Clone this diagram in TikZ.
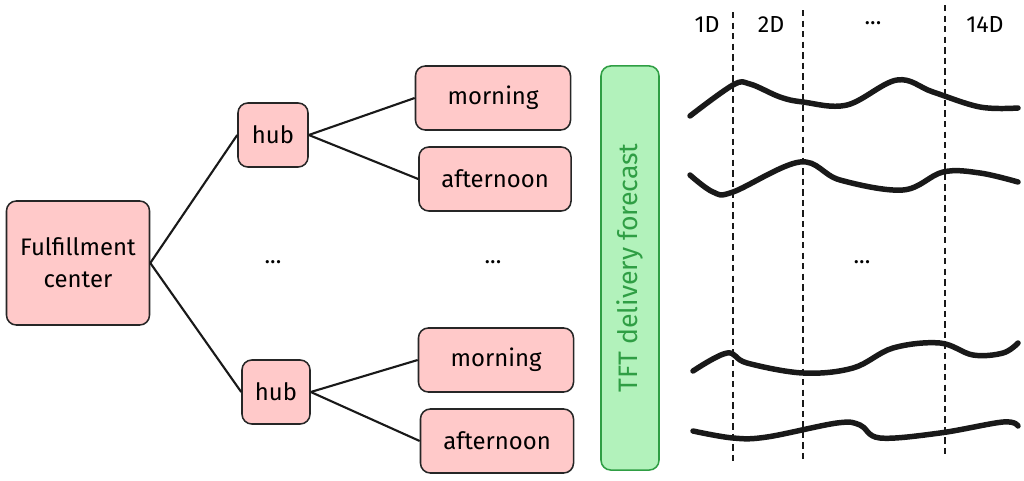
\documentclass[tikz,border=0pt]{standalone}
\usepackage{fontspec}
\setmainfont{Fira Sans}
\definecolor{PinkBox}{HTML}{FFC9C9}
\definecolor{MintBox}{HTML}{B2F2BB}
\definecolor{ForecastGreen}{HTML}{2F9E44}
\usetikzlibrary{positioning, calc}

\begin{document}
\begin{tikzpicture}[x=0.025cm,y=-0.025cm,
	box/.style={draw=black!85,fill=PinkBox,rounded corners=7pt,line width=1.1pt,
		inner sep=0pt,align=center,font=\fontsize{17}{21}\selectfont},
	link/.style={black!90,line width=1.5pt},
	trend/.style={black!90,line width=3.9pt,line cap=round,line join=round},
	daysep/.style={black!90,dash pattern=on 4.5pt off 3pt,line width=0.9pt},
	lbl/.style={font=\fontsize{16.5}{20}\selectfont}]
\useasboundingbox (0,0) rectangle (1024,480);

% hierarchy
\node[box,minimum width=3.575cm,minimum height=3.1cm,font=\fontsize{17}{23}\selectfont] (fc) at (78,263) {Fulfillment\\center};
\node[box,minimum width=1.75cm,minimum height=1.6cm] (hubA) at (273,135) {hub};
\node[box,minimum width=1.7cm,minimum height=1.6cm] (hubB) at (276,392) {hub};
\node[box,minimum width=3.875cm,minimum height=1.6cm] (mornA) at (493,98) {morning};
\node[box,minimum width=3.8cm,minimum height=1.6cm] (aftA) at (495,179) {afternoon};
\node[box,minimum width=3.875cm,minimum height=1.6cm] (mornB) at (496,360) {morning};
\node[box,minimum width=3.825cm,minimum height=1.6cm] (aftB) at (497,441) {afternoon};
\node[lbl] (dotsA) at (273,262) {...};
\node[lbl] (dotsB) at (493,262) {...};

\draw[link] (fc.east) -- (hubA.west);
\draw[link] (fc.east) -- (hubB.west);
\draw[link] (hubA.east) -- (mornA.west);
\draw[link] (hubA.east) -- (aftA.west);
\draw[link] (hubB.east) -- (mornB.west);
\draw[link] (hubB.east) -- (aftB.west);

% model
\node[draw=ForecastGreen,fill=MintBox,rounded corners=7pt,line width=1.1pt,
	minimum width=1.45cm,minimum height=10.1cm,inner sep=0pt] (tft) at (630,268) {};
\node[rotate=90,text=ForecastGreen,font=\fontsize{19}{22}\selectfont] (tftlbl) at (tft.center) {TFT delivery forecast};

% horizon
\draw[daysep] (733,12) -- (733,462);
\draw[daysep] (803,10) -- (803,460);
\draw[daysep] (945,5) -- (945,455);
\node[lbl] (d1) at (707,25) {1D};
\node[lbl] (d2) at (771,25) {2D};
\node[lbl] (dd) at (873,23) {...};
\node[lbl] (d14) at (985,25) {14D};
\node[lbl] (dotsC) at (862,262) {...};

\draw[trend] plot[smooth,tension=0.6] coordinates {(690,116) (733,85) (750,84) (780,97)
	(803,102) (847,105) (897,80) (933,92) (980,107) (1018,108)};
\draw[trend] plot[smooth,tension=0.6] coordinates {(690,175) (713,192) (733,192) (800,162)
	(840,180) (903,190) (943,172) (980,173) (1018,182)};
\draw[trend] plot[smooth,tension=0.6] coordinates {(693,371) (727,353) (747,363) (803,373)
	(853,368) (893,348) (940,343) (973,355) (1003,353) (1018,343)};
\draw[trend] plot[smooth,tension=0.6] coordinates {(693,431) (733,438) (767,437) (837,423)
	(860,425) (880,438) (940,433) (1003,422) (1018,426)};
\end{tikzpicture}
\end{document}
